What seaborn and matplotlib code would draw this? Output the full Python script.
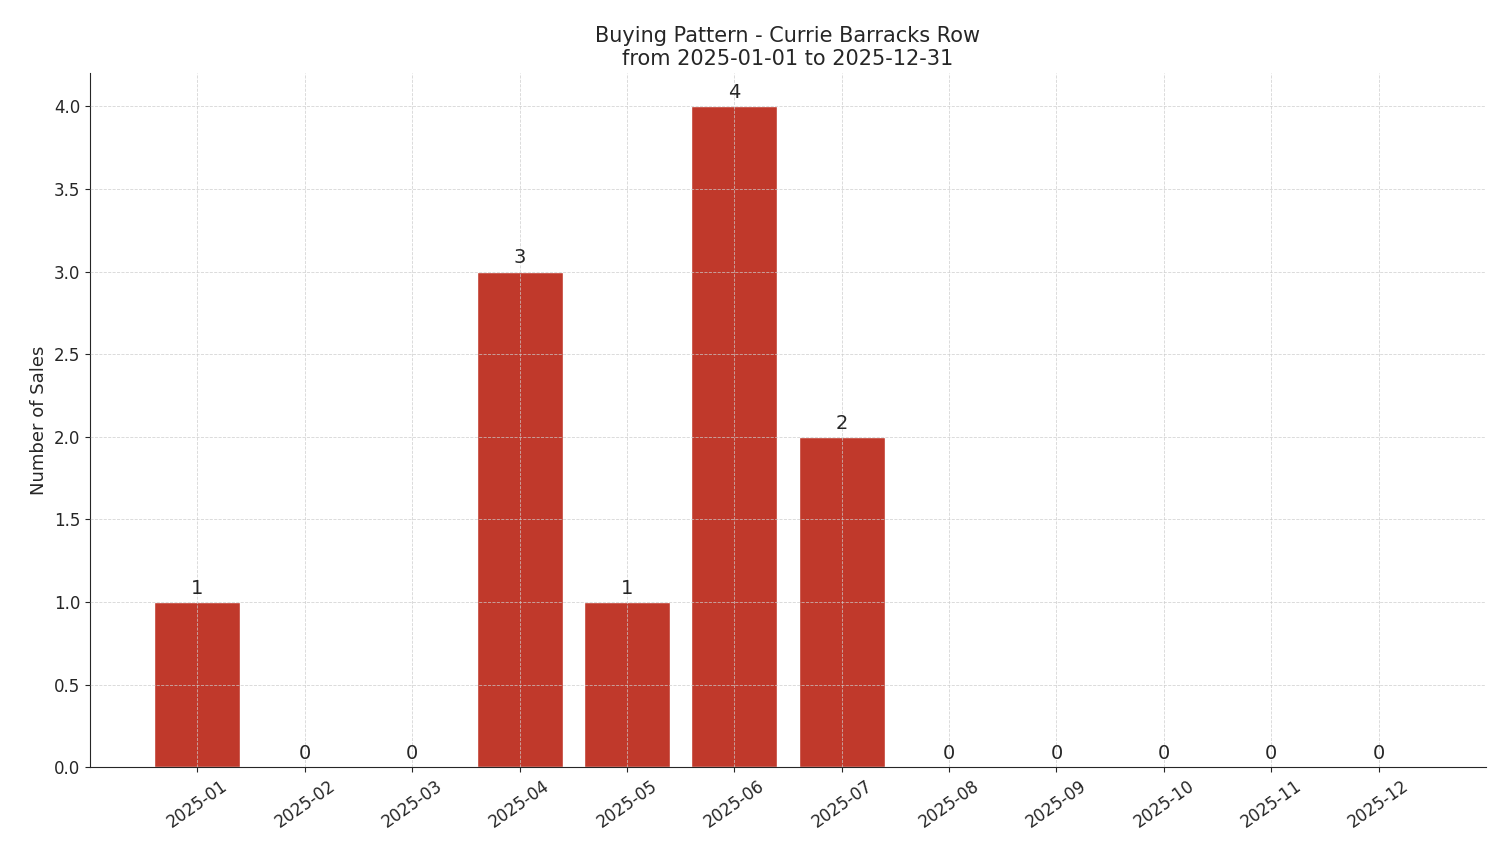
import matplotlib
matplotlib.use("Agg")
import matplotlib.pyplot as plt
import seaborn as sns
import pandas as pd

months = ["2025-01","2025-02","2025-03","2025-04","2025-05","2025-06",
          "2025-07","2025-08","2025-09","2025-10","2025-11","2025-12"]
sales = [1, 0, 0, 3, 1, 4, 2, 0, 0, 0, 0, 0]

sns.set_style("ticks")
plt.rcParams['font.family'] = ['DejaVu Sans']
df = pd.DataFrame({"month": months, "sales": sales})

fig, ax = plt.subplots(figsize=(15.01, 8.63), dpi=100)
sns.barplot(data=df, x="month", y="sales", color="#c0392b", saturation=1,
            width=0.8, ax=ax, zorder=2)
ax.grid(True, linestyle="--", linewidth=0.6, color="#cccccc", alpha=0.8, zorder=3)
ax.set_axisbelow(False)
for c in ax.containers:
    ax.bar_label(c, labels=[str(v) for v in sales], padding=3, fontsize=14)
ax.set_xlim(-1, 12)
ax.set_ylim(0, 4.2)
ax.set_xlabel("")
ax.set_ylabel("Number of Sales", fontsize=13)
ax.set_title("Buying Pattern - Currie Barracks Row\nfrom 2025-01-01 to 2025-12-31", fontsize=15)
ax.tick_params(axis="both", labelsize=12)
plt.setp(ax.get_xticklabels(), rotation=35)
sns.despine(ax=ax)
fig.subplots_adjust(left=0.06, right=0.99, top=0.915, bottom=0.111)
fig.savefig("out.png", dpi=100)
